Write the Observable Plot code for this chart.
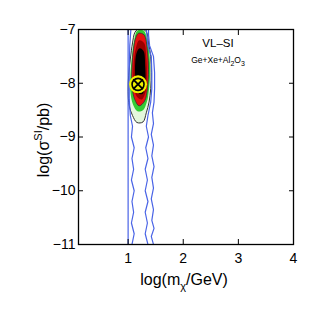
<!DOCTYPE html>
<html><head><meta charset="utf-8">
<script src="https://cdn.jsdelivr.net/npm/d3@7"></script>
<script src="https://cdn.jsdelivr.net/npm/@observablehq/plot@0.6"></script>
<style>body{margin:0;background:#fff;} svg{display:block;font-family:"Liberation Sans",Arial,sans-serif;}</style>
</head><body><div id="chart"></div>
<script>
const xTicks = [1, 2, 3, 4];
const yTicks = [-7, -8, -9, -10, -11];
const xDomain = [0.1, 4];
const yDomain = [-11, -7];

// posterior filled contours (outer -> inner)
const blobOuter = [[1.17,-7.0],[1.27,-6.99],[1.34,-7.06],[1.37,-7.25],[1.41,-7.5],[1.42,-7.8],[1.41,-8.1],[1.38,-8.35],[1.33,-8.55],[1.27,-8.72],[1.16,-8.73],[1.08,-8.6],[1.02,-8.42],[1.0,-8.15],[1.01,-7.85],[1.04,-7.55],[1.08,-7.25],[1.12,-7.06]];
const blobGreen = [[1.17,-7.02],[1.28,-7.02],[1.35,-7.2],[1.39,-7.5],[1.4,-7.8],[1.38,-8.1],[1.34,-8.35],[1.27,-8.5],[1.17,-8.52],[1.09,-8.4],[1.04,-8.15],[1.04,-7.85],[1.07,-7.5],[1.11,-7.2]];
const blobRed = [[1.19,-7.07],[1.29,-7.1],[1.35,-7.4],[1.37,-7.75],[1.35,-8.1],[1.3,-8.33],[1.2,-8.42],[1.12,-8.3],[1.07,-8.05],[1.07,-7.7],[1.1,-7.35],[1.14,-7.15]];
const blobDark = [[1.2,-7.2],[1.29,-7.25],[1.33,-7.55],[1.34,-7.85],[1.32,-8.15],[1.25,-8.3],[1.16,-8.25],[1.1,-8.0],[1.1,-7.65],[1.14,-7.35]];
const blobBlack = [[1.21,-7.35],[1.28,-7.4],[1.31,-7.7],[1.31,-8.0],[1.26,-8.2],[1.17,-8.17],[1.13,-7.9],[1.13,-7.6],[1.16,-7.42]];

// profile-likelihood contour lines (blue)
const blueOuter = [[1.0,-11.3],[1.0,-6.8],[1.37,-6.8],[1.37,-7.1],[1.39,-7.3],[1.46,-7.5],[1.48,-7.8],[1.48,-8.1],[1.47,-8.35],[1.44,-8.55],[1.46,-8.75],[1.42,-8.95],[1.46,-9.15],[1.43,-9.35],[1.47,-9.55],[1.43,-9.75],[1.46,-9.95],[1.42,-10.15],[1.46,-10.35],[1.43,-10.55],[1.47,-10.7],[1.42,-10.85],[1.46,-11.0],[1.43,-11.15],[1.45,-11.3]];
const blueInner = [[1.06,-11.3],[1.1,-11.15],[1.07,-11.0],[1.11,-10.8],[1.06,-10.6],[1.1,-10.4],[1.07,-10.2],[1.11,-10.0],[1.06,-9.8],[1.1,-9.6],[1.07,-9.4],[1.11,-9.2],[1.06,-9.0],[1.08,-8.8],[1.04,-8.6],[1.02,-8.3],[1.02,-7.8],[1.03,-7.3],[1.05,-7.0],[1.1,-6.85],[1.3,-6.85],[1.33,-7.0],[1.36,-7.3],[1.42,-7.5],[1.43,-7.8],[1.43,-8.1],[1.41,-8.35],[1.36,-8.6],[1.33,-8.8],[1.37,-9.0],[1.32,-9.2],[1.36,-9.4],[1.31,-9.6],[1.35,-9.8],[1.31,-10.0],[1.36,-10.2],[1.31,-10.4],[1.35,-10.6],[1.31,-10.8],[1.36,-11.0],[1.32,-11.15],[1.35,-11.3]];

const bestFit = [[1.18, -8.02]];
const titleText = "VL–SI";
const targetParts = [["Ge+Xe+Al", false], ["2", true], ["O", false], ["3", true]];

const toObj = a => a.map(([x, y]) => ({x, y}));
const fmt = d => (d < 0 ? "−" : "") + Math.abs(d);

const plot = Plot.plot({
  width: 322, height: 322,
  marginTop: 29, marginRight: 29, marginBottom: 78, marginLeft: 78,
  style: {fontFamily: "Liberation Sans, Arial, sans-serif", fontSize: "14px", color: "#000", background: "#fff"},
  x: {domain: xDomain, label: null},
  y: {domain: yDomain, label: null},
  marks: [
    Plot.line(toObj(blobOuter), {x: "x", y: "y", curve: "catmull-rom-closed", fill: "#e4f7dc", stroke: "none", clip: true}),
    Plot.line(toObj(blobGreen), {x: "x", y: "y", curve: "catmull-rom-closed", fill: "#33cc33", stroke: "none", clip: true}),
    Plot.line(toObj(blobRed), {x: "x", y: "y", curve: "catmull-rom-closed", fill: "#e81010", stroke: "#333", strokeWidth: 0.8, clip: true}),
    Plot.line(toObj(blobDark), {x: "x", y: "y", curve: "catmull-rom-closed", fill: "#9a0000", stroke: "none", clip: true}),
    Plot.line(toObj(blobBlack), {x: "x", y: "y", curve: "catmull-rom-closed", fill: "#000", stroke: "none", clip: true}),
    Plot.line(toObj(blobOuter), {x: "x", y: "y", curve: "catmull-rom-closed", fill: "none", stroke: "#333", strokeWidth: 1, clip: true}),
    Plot.line(toObj(blueOuter), {x: "x", y: "y", stroke: "#4a64e6", strokeWidth: 1.2, clip: true}),
    Plot.line(toObj(blueInner), {x: "x", y: "y", stroke: "#4a64e6", strokeWidth: 1.2, clip: true}),
    Plot.dot(toObj(bestFit), {x: "x", y: "y", r: 9, fill: "#f2f000", stroke: "none"}),
    Plot.dot(toObj(bestFit), {x: "x", y: "y", r: 6, fill: "#f2f000", stroke: "#000", strokeWidth: 1.6}),
    Plot.dot(toObj(bestFit), {x: "x", y: "y", r: 4.5, symbol: "times", stroke: "#000", strokeWidth: 1.8}),
    Plot.frame({stroke: "#000", strokeWidth: 1.3}),
    Plot.axisX({anchor: "bottom", ticks: xTicks, tickSize: 0, tickPadding: 9, tickFormat: fmt, label: null, fontSize: 14}),
    Plot.axisX({anchor: "bottom", ticks: xTicks, tickSize: -5, tickFormat: () => "", label: null}),
    Plot.axisX({anchor: "top", ticks: xTicks, tickSize: -5, tickFormat: () => "", label: null}),
    Plot.axisY({anchor: "left", ticks: yTicks, tickSize: 0, tickPadding: 3, tickFormat: fmt, label: null, fontSize: 14}),
    Plot.axisY({anchor: "left", ticks: yTicks, tickSize: -5, tickFormat: () => "", label: null}),
    Plot.axisY({anchor: "right", ticks: yTicks, tickSize: -5, tickFormat: () => "", label: null})
  ]
});

const svg = d3.select(plot);
// x label
const xl = svg.append("text").attr("x", 184).attr("y", 285).attr("text-anchor", "middle").attr("font-size", 16).attr("fill", "#000");
xl.append("tspan").text("log(m");
xl.append("tspan").attr("dy", 5).attr("font-size", 11).text("χ");
xl.append("tspan").attr("dy", -5).text("/GeV)");
// y label
const yl = svg.append("text").attr("transform", "translate(49,140) rotate(-90)").attr("text-anchor", "middle").attr("font-size", 16).attr("fill", "#000");
yl.append("tspan").text("log(σ");
yl.append("tspan").attr("dy", -7).attr("font-size", 11).text("SI");
yl.append("tspan").attr("dy", 7).text("/pb)");
// annotations
svg.append("text").attr("x", 218).attr("y", 47).attr("font-size", 11.5).attr("fill", "#000").text(titleText);
const tl = svg.append("text").attr("x", 218).attr("y", 63).attr("font-size", 8.5).attr("fill", "#000");
let prevSub = false;
for (const [t, sub] of targetParts) {
  const dy = sub === prevSub ? 0 : (sub ? 2.5 : -2.5);
  tl.append("tspan").attr("dy", dy).attr("font-size", sub ? 7 : 8.5).text(t);
  prevSub = sub;
}
document.getElementById("chart").appendChild(plot);
</script>
</body></html>
